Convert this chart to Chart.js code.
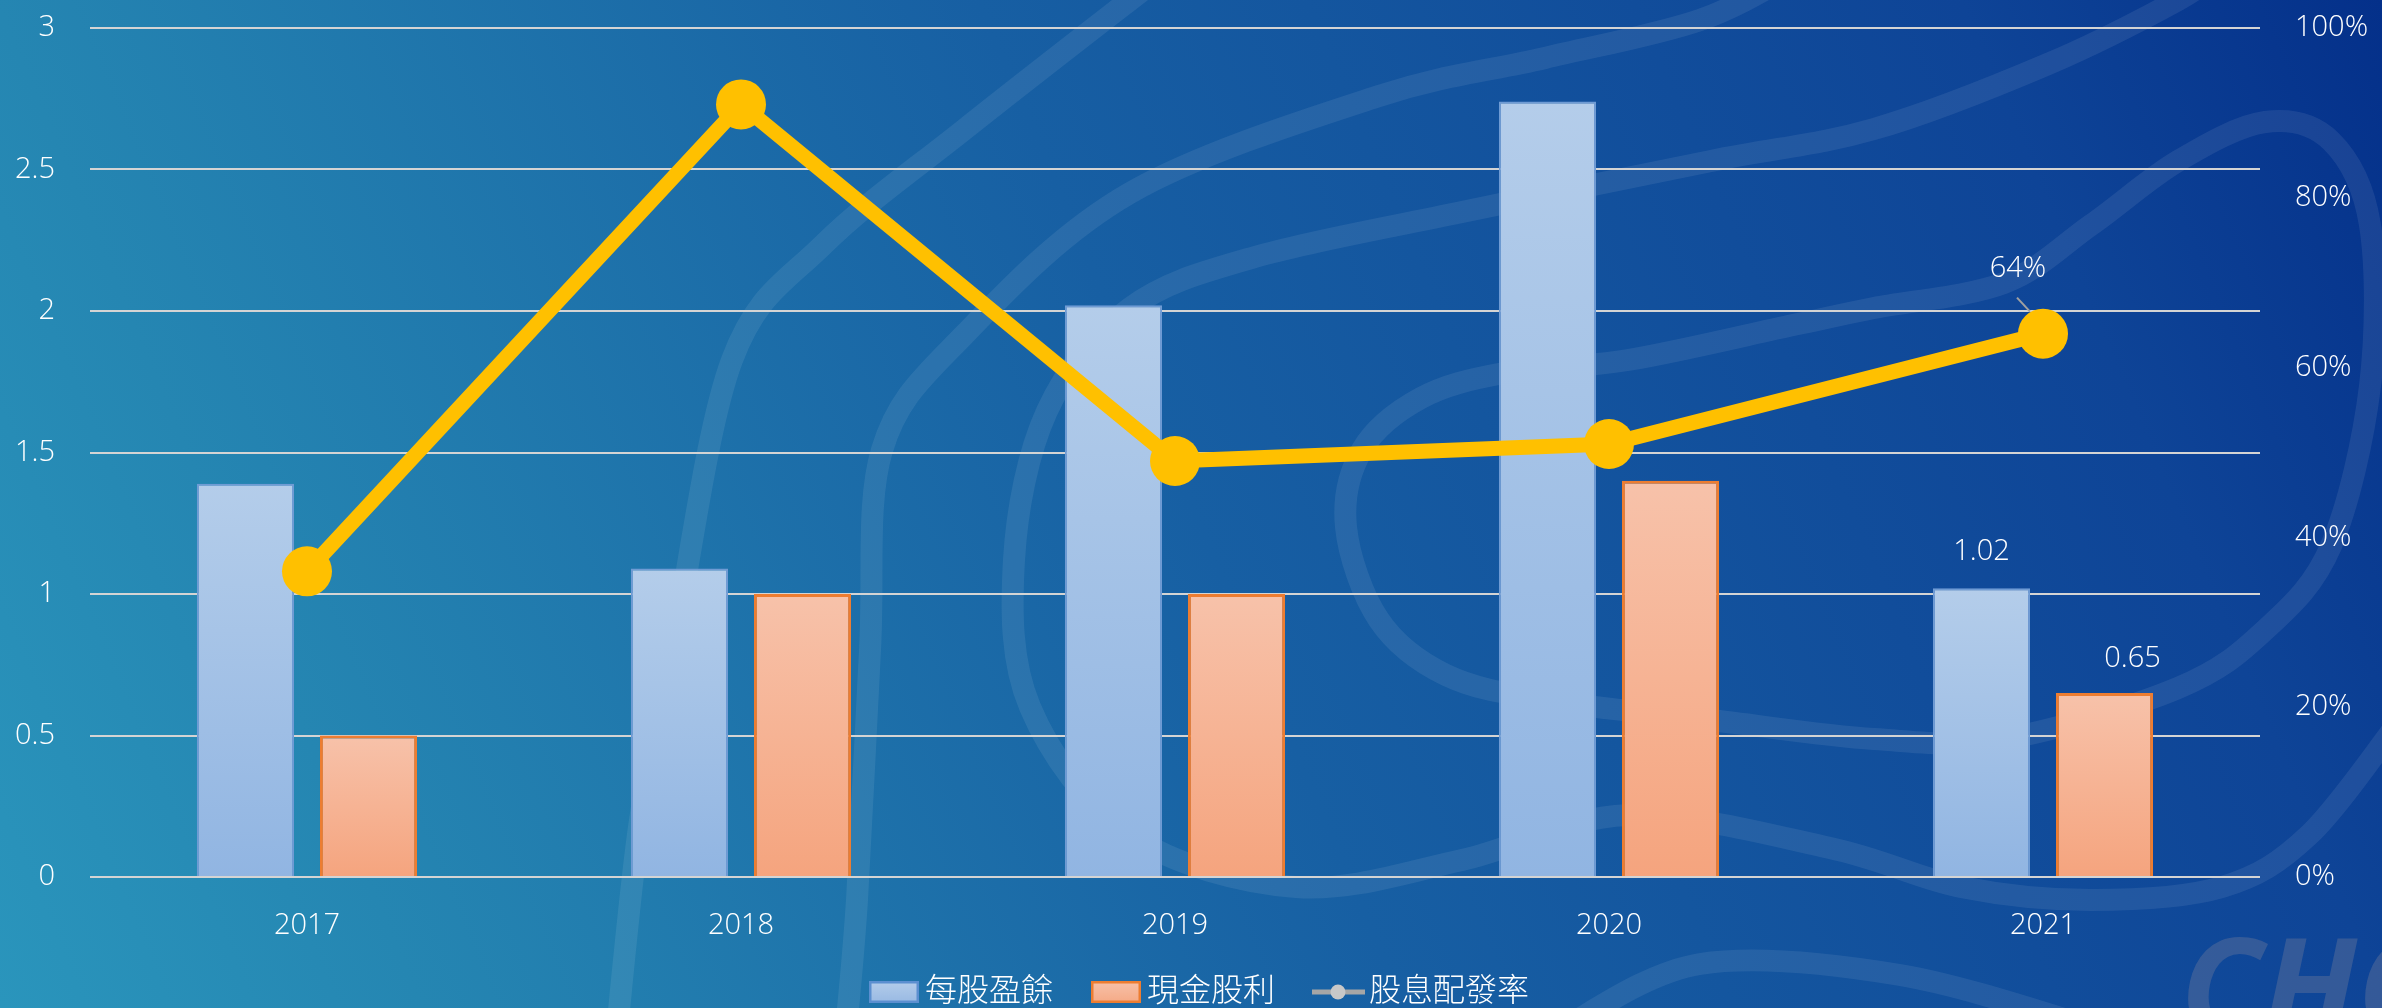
<!DOCTYPE html>
<html>
<head>
<meta charset="utf-8">
<script src="https://cdn.jsdelivr.net/npm/chart.js@4/dist/chart.umd.min.js"></script>
<style>
html,body{margin:0;padding:0;overflow:hidden;background:#175fa3;}
#wrap{position:relative;width:2382px;height:1008px;}
</style>
</head>
<body>
<div id="wrap"><canvas id="c" width="2382" height="1008"></canvas></div>
<script>
// ---- data ----
const years = ['2017', '2018', '2019', '2020', '2021'];
const eps = [1.39, 1.09, 2.02, 2.74, 1.02];          // 每股盈餘
const dividend = [0.5, 1.0, 1.0, 1.4, 0.65];         // 現金股利
const payout = [36, 91, 49, 51, 64];                 // 股息配發率 (%)
const seriesNames = ['每股盈餘', '現金股利', '股息配發率'];
const leftAxis = {min: 0, max: 3, step: 0.5};
const rightAxis = {min: 0, max: 100, step: 20};
const labelledIndex = 4; // 2021 values are labelled

const FONT = "'Open Sans','Noto Sans CJK TC',sans-serif";

// ---- legend swatches ----
function swatch(kind) {
  const c = document.createElement('canvas');
  c.width = 80; c.height = 30;
  const g = c.getContext('2d');
  if (kind === 'line') {
    g.strokeStyle = '#a6a6a6'; g.lineWidth = 5;
    g.beginPath(); g.moveTo(27, 15); g.lineTo(80, 15); g.stroke();
    g.fillStyle = '#c8c8c8';
    g.beginPath(); g.arc(53, 15, 7.5, 0, Math.PI * 2); g.fill();
  } else {
    const gr = g.createLinearGradient(0, 4, 0, 26);
    if (kind === 'blue') { gr.addColorStop(0, '#b4cdea'); gr.addColorStop(1, '#98b9e3'); g.strokeStyle = '#5b8fd0'; }
    else { gr.addColorStop(0, '#f7c2aa'); gr.addColorStop(1, '#f5a985'); g.strokeStyle = '#ed7d31'; }
    g.fillStyle = gr; g.fillRect(28, 4, 50, 22);
    g.lineWidth = 2.5; g.strokeRect(29.25, 5.25, 47.5, 19.5);
  }
  return c;
}
const swatches = [swatch('blue'), swatch('orange'), swatch('line')];

// ---- per-bar vertical gradient ----
function barGradient(top, bottom) {
  return (ctx) => {
    const chart = ctx.chart;
    if (ctx.type !== 'data' || !chart.chartArea || !chart.scales.y) return top;
    const ys = chart.scales.y;
    const y0 = ys.getPixelForValue(ctx.raw);
    const y1 = ys.getPixelForValue(0);
    if (!isFinite(y0) || !isFinite(y1) || y0 === y1) return top;
    const g = chart.ctx.createLinearGradient(0, y0, 0, y1);
    g.addColorStop(0, top);
    g.addColorStop(1, bottom);
    return g;
  };
}

// ---- smooth decorative curve helper ----
function smooth(ctx, pts, closed) {
  const n = pts.length;
  const P = (i) => closed ? pts[(i + n) % n] : pts[Math.max(0, Math.min(n - 1, i))];
  ctx.beginPath();
  ctx.moveTo(pts[0][0], pts[0][1]);
  const segs = closed ? n : n - 1;
  for (let i = 0; i < segs; i++) {
    const p0 = P(i - 1), p1 = P(i), p2 = P(i + 1), p3 = P(i + 2);
    const c1 = [p1[0] + (p2[0] - p0[0]) / 6, p1[1] + (p2[1] - p0[1]) / 6];
    const c2 = [p2[0] - (p3[0] - p1[0]) / 6, p2[1] - (p3[1] - p1[1]) / 6];
    ctx.bezierCurveTo(c1[0], c1[1], c2[0], c2[1], p2[0], p2[1]);
  }
  if (closed) ctx.closePath();
  ctx.stroke();
}

const background = {
  id: 'background',
  beforeDraw(chart) {
    const {ctx, width, height} = chart;
    ctx.save();
    const g = ctx.createLinearGradient(0, height, width, 0);
    g.addColorStop(0, '#2a95bc');
    g.addColorStop(0.15, '#2586b2');
    g.addColorStop(0.5, '#175fa3');
    g.addColorStop(0.85, '#0e4497');
    g.addColorStop(1, '#04308a');
    ctx.fillStyle = g;
    ctx.fillRect(0, 0, width, height);
    ctx.strokeStyle = 'rgba(255,255,255,0.08)';
    ctx.lineWidth = 22;
    ctx.lineCap = 'round';
    ctx.lineJoin = 'round';
    smooth(ctx, [[616,1040],[640,820],[674,643],[732,360],[824,244],[965,129],[1130,0],[1170,-30]], false);
    smooth(ctx, [[845,1040],[857,900],[870,650],[882,450],[965,334],[1130,193],[1379,96],[1545,58],[1700,20],[1800,-30]], false);
    smooth(ctx, [[2220,-30],[2178,0],[2048,64],[1874,129],[1711,161],[1462,212],[1255,257],[1130,308],[1047,411],[1014,560],[1030,707],[1130,835],[1296,887],[1462,860],[1628,815],[1830,848],[1961,887],[2091,900],[2222,887],[2309,835],[2400,720]], false);
    smooth(ctx, [[1346,527],[1362,450],[1421,398],[1504,373],[1628,360],[1793,325],[1874,308],[2004,283],[2091,225],[2178,161],[2265,122],[2331,141],[2370,225],[2370,386],[2331,546],[2265,630],[2178,688],[2004,739],[1874,739],[1711,720],[1545,700],[1446,675],[1379,620]], true);
    smooth(ctx, [[1560,1030],[1700,964],[1900,975],[2100,1030]], false);
    ctx.fillStyle = 'rgba(105,120,155,0.42)';
    ctx.font = 'italic bold 135px ' + FONT;
    ctx.textBaseline = 'alphabetic';
    ctx.fillText('CHC', 2180, 1035);
    ctx.restore();
  }
};

const valueLabels = {
  id: 'valueLabels',
  afterDatasetsDraw(chart) {
    const ctx = chart.ctx;
    const i = labelledIndex;
    ctx.save();
    ctx.font = '300 29px ' + FONT;
    ctx.fillStyle = '#ffffff';
    ctx.textAlign = 'center';
    ctx.textBaseline = 'middle';
    const b0 = chart.getDatasetMeta(0).data[i];
    const b1 = chart.getDatasetMeta(1).data[i];
    const p2 = chart.getDatasetMeta(2).data[i];
    ctx.fillText(eps[i].toFixed(2), b0.x, b0.y - 37);
    ctx.fillText(dividend[i].toFixed(2), b1.x + 28, b1.y - 34);
    ctx.fillText(payout[i] + '%', p2.x - 25, p2.y - 65);
    ctx.strokeStyle = '#a0a0a0';
    ctx.lineWidth = 2;
    ctx.beginPath();
    ctx.moveTo(p2.x - 26, p2.y - 36);
    ctx.lineTo(p2.x - 13, p2.y - 22);
    ctx.stroke();
    ctx.restore();
  }
};

Chart.defaults.font.family = FONT;

const tickFont = {size: 29, weight: 300};

function fixVertical(width) {
  return (s) => { s.width = width; s.paddingTop = 0; s.paddingBottom = 0; };
}

new Chart(document.getElementById('c'), {
  type: 'bar',
  data: {
    labels: years,
    datasets: [
      {
        label: seriesNames[0], data: eps, yAxisID: 'y', order: 2,
        backgroundColor: barGradient('#b4cdea', '#91b5e2'),
        borderColor: '#6f9bd4', borderWidth: 2,
        categoryPercentage: 0.567, barPercentage: 0.79
      },
      {
        label: seriesNames[1], data: dividend, yAxisID: 'y', order: 2,
        backgroundColor: barGradient('#f7c2aa', '#f5a47e'),
        borderColor: '#ed7d31', borderWidth: 3,
        categoryPercentage: 0.567, barPercentage: 0.79
      },
      {
        type: 'line', label: seriesNames[2], data: payout, yAxisID: 'y1', order: 0,
        borderColor: '#ffc000', backgroundColor: '#ffc000', borderWidth: 15,
        pointRadius: 25, pointHoverRadius: 25, pointBackgroundColor: '#ffc000',
        pointBorderWidth: 0, tension: 0, fill: false
      }
    ]
  },
  options: {
    responsive: false,
    animation: false,
    events: [],
    layout: {padding: {top: 28, left: 0, right: 0, bottom: -10}},
    scales: {
      x: {
        grid: {display: false, drawTicks: false},
        border: {display: false},
        ticks: {color: '#ffffff', font: tickFont, padding: 31},
        afterFit(s) { s.height = 77; }
      },
      y: {
        position: 'left',
        min: leftAxis.min, max: leftAxis.max,
        ticks: {stepSize: leftAxis.step, color: '#ffffff', font: tickFont, padding: 35,
                callback: (v) => String(v)},
        grid: {color: '#d4d4d4', lineWidth: 2, drawTicks: false},
        border: {display: false},
        afterFit: fixVertical(90)
      },
      y1: {
        position: 'right',
        min: rightAxis.min, max: rightAxis.max,
        ticks: {stepSize: rightAxis.step, color: '#ffffff', font: tickFont, padding: 35,
                callback: (v) => v + '%'},
        grid: {drawOnChartArea: false, drawTicks: false},
        border: {display: false},
        afterFit: fixVertical(122)
      }
    },
    plugins: {
      tooltip: {enabled: false},
      legend: {
        position: 'bottom',
        labels: {
          usePointStyle: true, pointStyleWidth: 56, boxHeight: 32, padding: 22,
          color: '#ffffff', font: {size: 32, weight: 300},
          generateLabels: () => seriesNames.map((t, i) => ({
            text: t, pointStyle: swatches[i], datasetIndex: i, hidden: false,
            fontColor: '#ffffff', lineWidth: 0, strokeStyle: 'rgba(0,0,0,0)', fillStyle: 'rgba(0,0,0,0)'
          }))
        }
      }
    }
  },
  plugins: [background, valueLabels]
});
</script>
</body>
</html>
